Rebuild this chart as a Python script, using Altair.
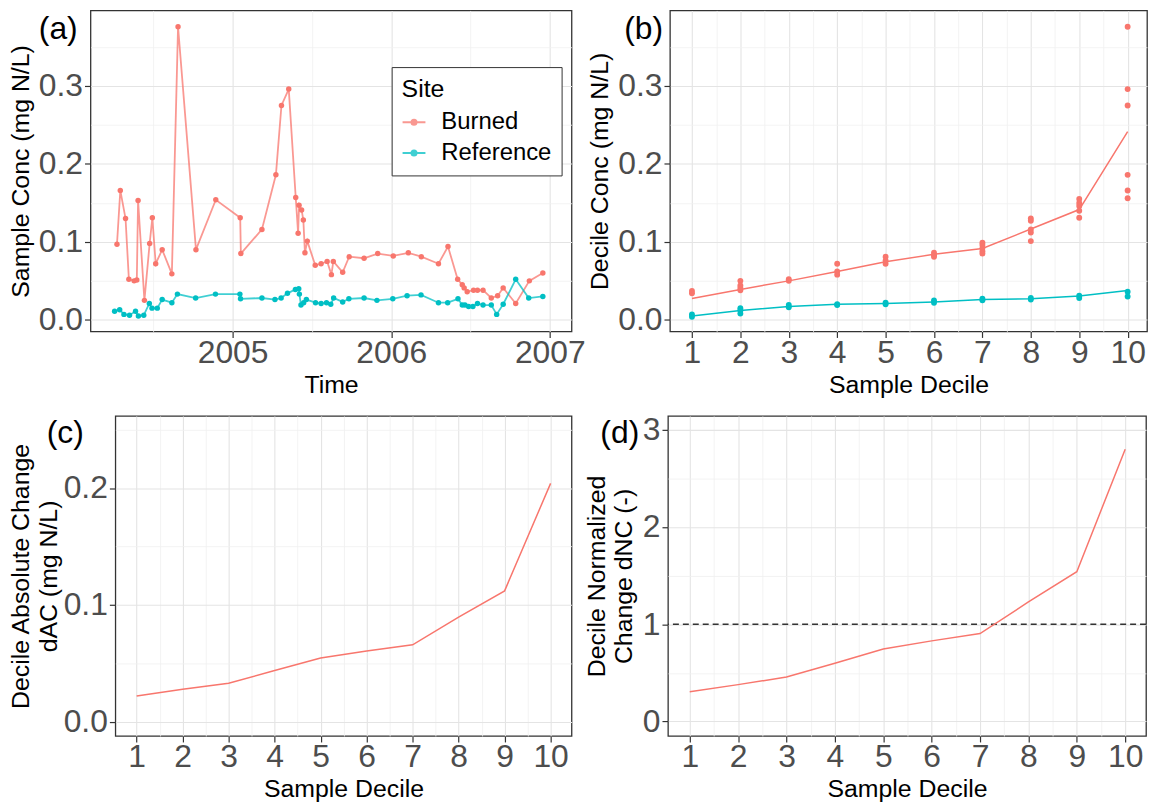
import altair as alt
import pandas as pd

FONT = "Liberation Sans"
RED, TEAL = "#F8766D", "#00BFC4"
sites = ["Burned", "Reference"]
site_colors = [RED, TEAL]
panel_tags = ["(a)", "(b)", "(c)", "(d)"]

# ---------------- panel (a): time series ----------------
burned_time = [2004.271, 2004.292, 2004.325, 2004.346, 2004.379, 2004.396, 2004.404, 2004.444,
               2004.477, 2004.494, 2004.515, 2004.556, 2004.617, 2004.656, 2004.769, 2004.894,
               2005.048, 2005.052, 2005.185, 2005.273, 2005.308, 2005.354, 2005.398, 2005.413,
               2005.419, 2005.435, 2005.446, 2005.456, 2005.471, 2005.521, 2005.558, 2005.596,
               2005.623, 2005.635, 2005.694, 2005.735, 2005.829, 2005.915, 2006.013, 2006.108,
               2006.190, 2006.298, 2006.358, 2006.419, 2006.448, 2006.460, 2006.479, 2006.519,
               2006.544, 2006.579, 2006.631, 2006.671, 2006.706, 2006.785, 2006.871, 2006.956]
burned_conc = [0.097, 0.166, 0.130, 0.052, 0.050, 0.051, 0.153, 0.025,
               0.098, 0.131, 0.072, 0.090, 0.059, 0.376, 0.090, 0.154,
               0.131, 0.085, 0.116, 0.186, 0.275, 0.296, 0.157, 0.111,
               0.147, 0.141, 0.128, 0.086, 0.101, 0.070, 0.072, 0.075,
               0.058, 0.075, 0.061, 0.081, 0.079, 0.085, 0.082, 0.086,
               0.081, 0.072, 0.094, 0.052, 0.045, 0.041, 0.036, 0.038,
               0.038, 0.038, 0.028, 0.031, 0.041, 0.021, 0.050, 0.060]
ref_time = [2004.256, 2004.288, 2004.315, 2004.350, 2004.388, 2004.406, 2004.440, 2004.475,
            2004.492, 2004.525, 2004.556, 2004.617, 2004.652, 2004.767, 2004.892, 2005.046,
            2005.050, 2005.185, 2005.267, 2005.306, 2005.346, 2005.396, 2005.417, 2005.421,
            2005.431, 2005.448, 2005.465, 2005.523, 2005.558, 2005.592, 2005.619, 2005.637,
            2005.694, 2005.733, 2005.829, 2005.910, 2006.010, 2006.100, 2006.188, 2006.298,
            2006.356, 2006.421, 2006.448, 2006.465, 2006.488, 2006.515, 2006.544, 2006.579,
            2006.631, 2006.665, 2006.706, 2006.785, 2006.867, 2006.956]
ref_conc = [0.011, 0.013, 0.007, 0.006, 0.011, 0.005, 0.006, 0.021,
            0.015, 0.015, 0.026, 0.022, 0.033, 0.028, 0.033, 0.033,
            0.027, 0.028, 0.026, 0.028, 0.034, 0.039, 0.040, 0.033,
            0.019, 0.022, 0.026, 0.022, 0.021, 0.022, 0.020, 0.028,
            0.023, 0.027, 0.028, 0.025, 0.027, 0.031, 0.032, 0.022,
            0.022, 0.027, 0.019, 0.019, 0.017, 0.017, 0.021, 0.019,
            0.019, 0.007, 0.020, 0.052, 0.028, 0.030]

# ---------------- panel (b): decile samples & decile means ----------------
b_burned_decile = [1, 1, 2, 2, 2, 2, 3, 3, 4, 4, 4, 5, 5, 5, 6, 6, 6,
                   7, 7, 7, 7, 7, 8, 8, 8, 8, 8, 9, 9, 9, 9, 9, 10, 10, 10, 10, 10, 10]
b_burned_conc = [0.037, 0.034, 0.050, 0.044, 0.041, 0.038, 0.052, 0.050,
                 0.072, 0.062, 0.058, 0.081, 0.076, 0.072, 0.086, 0.083, 0.081,
                 0.099, 0.096, 0.092, 0.088, 0.085, 0.130, 0.127, 0.116, 0.112, 0.101,
                 0.155, 0.150, 0.146, 0.140, 0.131, 0.376, 0.296, 0.275, 0.186, 0.166, 0.156]
b_ref_decile = [1, 1, 2, 2, 2, 3, 3, 4, 4, 5, 5, 6, 6, 7, 7, 8, 8, 9, 9, 10, 10]
b_ref_conc = [0.007, 0.004, 0.015, 0.012, 0.008, 0.019, 0.016, 0.020, 0.019,
              0.022, 0.020, 0.025, 0.022, 0.027, 0.025, 0.028, 0.026, 0.031, 0.028,
              0.036, 0.030]

deciles = [1, 2, 3, 4, 5, 6, 7, 8, 9, 10]
burned_decile_line = [0.0275, 0.039, 0.050, 0.062, 0.0746, 0.084, 0.0915, 0.1165, 0.1415, 0.2415]
ref_decile_line = [0.005, 0.012, 0.017, 0.020, 0.021, 0.023, 0.026, 0.027, 0.0305, 0.0377]

# ---------------- panels (c) and (d) ----------------
dac = [0.022, 0.0277, 0.033, 0.0438, 0.0545, 0.0605, 0.0658, 0.0895, 0.112, 0.204]
dnc = [0.305, 0.379, 0.457, 0.599, 0.745, 0.829, 0.904, 1.229, 1.54, 2.80]
dnc_reference_level = [1]

# tick / grid values
year_ticks = [2004.5, 2005, 2005.5, 2006, 2006.5, 2007]
conc_ticks = [0, 0.05, 0.1, 0.15, 0.2, 0.25, 0.3, 0.35]
dac_ticks = [0, 0.05, 0.1, 0.15, 0.2, 0.25]
dnc_ticks = [0, 0.5, 1, 1.5, 2, 2.5, 3]
decile_ticks = [1, 1.5, 2, 2.5, 3, 3.5, 4, 4.5, 5, 5.5, 6, 6.5, 7, 7.5, 8, 8.5, 9, 9.5, 10]

INT = "abs(datum.value - round(datum.value)) < 0.0001"
TENTH = "abs(datum.value * 10 - round(datum.value * 10)) < 0.0001"


def mk_axis(values, major, fmt, title, title_pad, label_pad, **kw):
    return alt.Axis(
        values=values,
        labelExpr=f"({major}) ? format(datum.value, '{fmt}') : ''",
        labelOverlap=False, labelFlush=False, labelPadding=label_pad,
        tickOpacity={"condition": {"test": major, "value": 1}, "value": 0},
        gridColor={"condition": {"test": major, "value": "#E4E4E4"}, "value": "#F0F0F0"},
        gridWidth={"condition": {"test": major, "value": 1.1}, "value": 0.8},
        title=title, titlePadding=title_pad, **kw)


def xaxis(values, title):
    return mk_axis(values, INT, "d", title, 4, 0)


def tag_layer(i, dx, base):
    df = pd.DataFrame({"tag": [panel_tags[i]]})
    return alt.Chart(df).mark_text(align="left", baseline="alphabetic", fontSize=32, font=FONT,
                                   color="black").encode(
        text="tag:N", x=alt.value(dx), y=alt.value(base))


def spacer():
    df = pd.DataFrame({"tag": [""]})
    return alt.Chart(df).mark_text(opacity=0).encode(text="tag:N").properties(
        width=1, height=1, view=alt.ViewBackground(stroke=None))


color_scale = alt.Scale(domain=sites, range=site_colors)
SYMBOL = "M-1,0L1,0M-0.22,0A0.22,0.22,0,1,0,0.22,0A0.22,0.22,0,1,0,-0.22,0Z"
legend = alt.Legend(orient="none", legendX=303, legendY=57, offset=0, title="Site",
                    symbolType=SYMBOL, symbolSize=529, symbolStrokeWidth=2,
                    titleFontSize=25, titleFont=FONT, titleFontWeight="normal", titleColor="black",
                    titlePadding=8, labelFontSize=24, labelFont=FONT, labelColor="black",
                    labelOffset=15, rowPadding=6, padding=10,
                    strokeColor="#333333", fillColor="white")

# ---- panel (a)
a_df = pd.DataFrame({
    "year": burned_time + ref_time,
    "conc": burned_conc + ref_conc,
    "Site": ["Burned"] * len(burned_time) + ["Reference"] * len(ref_time),
    "idx": list(range(len(burned_time))) + list(range(len(ref_time))),
})
xa = alt.X("year:Q", scale=alt.Scale(domain=[2004.104, 2007.137], nice=False, zero=False),
           axis=xaxis(year_ticks, "Time"))
ya = alt.Y("conc:Q", scale=alt.Scale(domain=[-0.0149, 0.3969], nice=False, zero=False),
           axis=mk_axis(conc_ticks, TENTH, ".1f", "Sample Conc (mg N/L)", 5, 2))
col_a = alt.Color("Site:N", scale=color_scale, legend=legend)
a_lines = alt.Chart(a_df).mark_line(strokeWidth=1.8, opacity=0.75).encode(
    x=xa, y=ya, color=col_a, order=alt.Order("idx:Q"))
a_points = alt.Chart(a_df).mark_point(filled=True, size=30, opacity=1).encode(
    x=xa, y=ya, color=col_a)
panel_a = alt.layer(a_lines, a_points, tag_layer(0, -52, 29)).properties(width=484, height=323)

# ---- panel (b)
b_pts = pd.DataFrame({
    "d": b_burned_decile + b_ref_decile,
    "c": b_burned_conc + b_ref_conc,
    "Site": ["Burned"] * len(b_burned_decile) + ["Reference"] * len(b_ref_decile),
})
b_line = pd.DataFrame({
    "d": deciles + deciles,
    "c": burned_decile_line + ref_decile_line,
    "Site": ["Burned"] * 10 + ["Reference"] * 10,
})
xb = alt.X("d:Q", scale=alt.Scale(domain=[0.545, 10.40], nice=False, zero=False),
           axis=xaxis(decile_ticks, "Sample Decile"))
yb = alt.Y("c:Q", scale=alt.Scale(domain=[-0.0149, 0.3969], nice=False, zero=False),
           axis=mk_axis(conc_ticks, TENTH, ".1f", "Decile Conc (mg N/L)", 5, 2))
col_b = alt.Color("Site:N", scale=color_scale, legend=None)
b_points = alt.Chart(b_pts).mark_point(filled=True, size=35, opacity=1).encode(x=xb, y=yb, color=col_b)
b_lines = alt.Chart(b_line).mark_line(strokeWidth=1.5).encode(x=xb, y=yb, color=col_b)
panel_b = alt.layer(b_points, b_lines, tag_layer(1, -46, 29)).properties(width=480, height=323)

# ---- panel (c)
c_df = pd.DataFrame({"d": deciles, "v": dac})
xc = alt.X("d:Q", scale=alt.Scale(domain=[0.537, 10.455], nice=False, zero=False),
           axis=xaxis(decile_ticks, "Sample Decile"))
yc = alt.Y("v:Q", scale=alt.Scale(domain=[-0.0122, 0.2617], nice=False, zero=False),
           axis=mk_axis(dac_ticks, TENTH, ".1f", ["Decile Absolute Change", "dAC (mg N/L)"], 2, 2,
                        titleLineHeight=28))
c_line = alt.Chart(c_df).mark_line(color=RED, strokeWidth=1.5).encode(x=xc, y=yc)
panel_c = alt.layer(c_line, tag_layer(2, -69, 27)).properties(width=459, height=322)

# ---- panel (d)
d_df = pd.DataFrame({"d": deciles, "v": dnc})
ref_df = pd.DataFrame({"v": dnc_reference_level})
xd = alt.X("d:Q", scale=alt.Scale(domain=[0.55, 10.43], nice=False, zero=False),
           axis=xaxis(decile_ticks, "Sample Decile"))
yd = alt.Y("v:Q", scale=alt.Scale(domain=[-0.149, 3.142], nice=False, zero=False),
           axis=mk_axis(dnc_ticks, INT, "d", ["Decile Normalized", "Change dNC (-)"], 6, 2,
                        titleLineHeight=27))
d_line = alt.Chart(d_df).mark_line(color=RED, strokeWidth=1.5).encode(x=xd, y=yd)
d_rule = alt.Chart(ref_df).mark_rule(color="#333333", strokeWidth=1.4, strokeDash=[6, 4]).encode(y=yd)
panel_d = alt.layer(d_rule, d_line, tag_layer(3, -68, 27)).properties(width=481, height=322)

row1 = alt.hconcat(
    spacer(),
    alt.hconcat(panel_a, panel_b, spacing=0).resolve_scale(color="independent").resolve_legend(color="independent"),
    spacing=0).resolve_scale(color="independent").resolve_legend(color="independent")
row2 = alt.hconcat(spacer(), alt.hconcat(panel_c, panel_d, spacing=11), spacing=0)

chart = alt.vconcat(row1, row2, spacing=12).resolve_scale(color="independent").resolve_legend(
    color="independent").properties(
    padding={"left": -2, "top": -6, "right": 0, "bottom": 0}, background="white"
).configure_view(stroke="#333333", strokeWidth=1.3).configure_axis(
    labelFont=FONT, labelFontSize=32, labelColor="#4D4D4D",
    titleFont=FONT, titleFontSize=25, titleFontWeight="normal", titleColor="black",
    tickColor="#333333", tickSize=6, tickWidth=1.2, domain=False, grid=True
)

chart.save("out.html", embed_options={"renderer": "svg", "actions": False})
